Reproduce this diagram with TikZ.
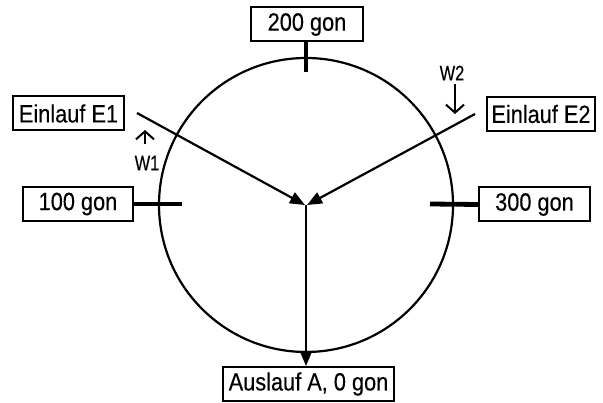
\documentclass[tikz,border=0pt]{standalone}
\usepackage{fontspec}
\setmainfont[FakeStretch=0.87,FakeBold=0.3]{Liberation Sans}
\newfontfamily\wfont[FakeStretch=0.78,FakeBold=0.3]{Liberation Sans}
\usetikzlibrary{arrows.meta}
\begin{document}
\begin{tikzpicture}[x=1pt,y=-1pt,
  lbl/.style={draw,line width=2pt,inner sep=0pt,minimum height=34pt,font=\fontsize{25}{28}\selectfont},
  conn/.style={line width=2.2pt,-{Triangle[length=15pt,width=12pt]}},
  tick/.style={line width=4.8pt},
  warr/.style={line width=2pt,-{Straight Barb[length=8pt,width=18pt,line width=2pt]}},
  wlbl/.style={inner sep=0pt,font=\wfont\fontsize{21}{23}\selectfont}]
\useasboundingbox (0,0) rectangle (603,403);
\coordinate (c) at (306,205);
\draw[line width=2.2pt] (c) circle[radius=147];
\node[lbl,minimum width=111pt] (e1) at (68.5,113.5) {Einlauf E1};
\node[lbl,minimum width=108pt] (e2) at (541,114) {Einlauf E2};
\node[lbl,minimum width=110pt] (g100) at (78,204) {100 gon};
\node[lbl,minimum width=111pt] (g300) at (534.5,204.5) {300 gon};
\node[lbl,minimum width=112pt] (g200) at (307,24.5) {200 gon};
\node[lbl,minimum width=171pt] (aus) at (308.5,384) {Auslauf A, 0 gon};
\coordinate (s1) at (137,113);
\coordinate (s2) at (475,114);
\coordinate (t1) at (305,205);
\coordinate (t2) at (307,205);
\coordinate (t200) at (306,72);
\coordinate (t100) at (182,204);
\coordinate (t300) at (430,204);
\draw[conn] (s1) -- (t1);
\draw[conn] (s2) -- (t2);
\draw[conn] (c) -- (c |- aus.north);
\draw[tick] (g200.south -| c) -- (t200);
\draw[tick] (g100.east) -- (t100);
\draw[tick] (g300.west) -- (t300);
\node[wlbl] (w1) at (147,163) {W1};
\node[wlbl] (w2) at (452,73) {W2};
\coordinate (w1a) at (145,144);
\coordinate (w1b) at (145,130);
\coordinate (w2a) at (455,84);
\coordinate (w2b) at (455,114);
\draw[warr] (w1a) -- (w1b);
\draw[warr] (w2a) -- (w2b);
\end{tikzpicture}
\end{document}
